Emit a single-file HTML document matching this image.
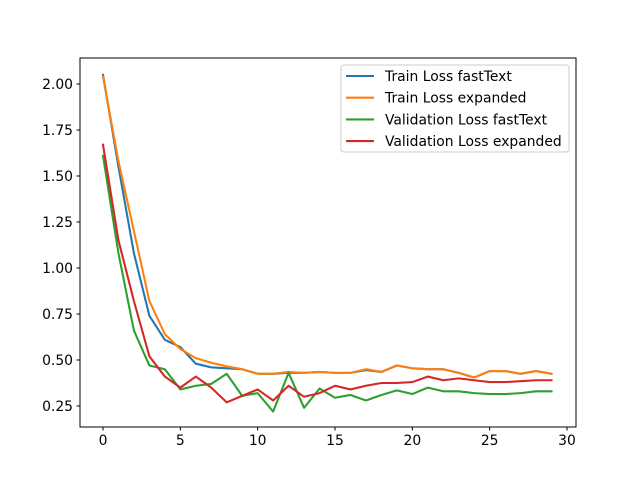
<!DOCTYPE html>
<html><head><meta charset="utf-8"><style>
body{margin:0;background:#fff}
text{font-family:"DejaVu Sans","Liberation Sans",sans-serif;font-size:13.9px;fill:#000}
</style></head><body>
<svg id="chart" width="640" height="480" xmlns="http://www.w3.org/2000/svg">
<rect width="640" height="480" fill="#fff"/>
<g id="plot"></g>
<rect x="80" y="58" width="496" height="369" fill="none" stroke="#000" stroke-width="1"/>
</svg>
<script>
const epochs=[...Array(30).keys()];
const trainFast=[2.05,1.55,1.08,0.74,0.61,0.57,0.48,0.46,0.455,0.45,0.425,0.425,0.43,0.43,0.435,0.43,0.43,0.445,0.435,0.47,0.455,0.45,0.45,0.43,0.405,0.44,0.44,0.425,0.44,0.425];
const trainExp=[2.04,1.58,1.2,0.82,0.64,0.56,0.51,0.485,0.465,0.45,0.425,0.425,0.435,0.43,0.435,0.43,0.43,0.45,0.435,0.47,0.455,0.45,0.45,0.43,0.405,0.44,0.44,0.425,0.44,0.425];
const valFast=[1.61,1.08,0.66,0.47,0.45,0.34,0.36,0.37,0.425,0.305,0.32,0.22,0.43,0.24,0.345,0.295,0.31,0.28,0.31,0.335,0.315,0.35,0.33,0.33,0.32,0.315,0.315,0.32,0.33,0.33];
const valExp=[1.67,1.15,0.82,0.52,0.41,0.35,0.41,0.35,0.27,0.305,0.34,0.28,0.36,0.3,0.32,0.36,0.34,0.36,0.375,0.375,0.38,0.41,0.39,0.4,0.39,0.38,0.38,0.385,0.39,0.39];
const xTicks=[0,5,10,15,20,25,30];
const yTicks=[0.25,0.5,0.75,1.0,1.25,1.5,1.75,2.0];
const seriesNames=["Train Loss fastText","Train Loss expanded","Validation Loss fastText","Validation Loss expanded"];
const colors=["#1f77b4","#ff7f0e","#2ca02c","#d62728"];
const X=v=>103+(v-0)*(567-103)/30;
const Y=v=>406-(v-0.25)*(406-84)/1.75;
const NS="http://www.w3.org/2000/svg";
const g=document.getElementById('plot');
function mk(t,a){const e=document.createElementNS(NS,t);for(const k in a)e.setAttribute(k,a[k]);g.appendChild(e);return e;}
xTicks.forEach(t=>{
 const l=mk('line',{x1:X(t),x2:X(t),y1:427,y2:430.5,stroke:'#000'});
 
 
 const tx=mk('text',{x:X(t),y:445,'text-anchor':'middle'});tx.textContent=t;
 
 
});
yTicks.forEach(t=>{
 const l=mk('line',{x1:76.5,x2:80,y1:Y(t),y2:Y(t),stroke:'#000'});
 
 
 const tx=mk('text',{x:73,y:Y(t)+5,'text-anchor':'end'});tx.textContent=t.toFixed(2);
 
 
});
[trainFast,trainExp,valFast,valExp].forEach((s,i)=>{
 const p=mk('polyline',{points:s.map((v,j)=>X(epochs[j])+','+Y(v)).join(' '),fill:'none',stroke:colors[i],'stroke-width':2.08,'stroke-linejoin':'round','stroke-linecap':'square'});
 
 
});
const lg=mk('rect',{x:341,y:65,width:228,height:87,rx:3,fill:'#fff','fill-opacity':0.8,stroke:'#ccc'});


seriesNames.forEach((n,i)=>{
 const y=76+i*21.7;
 const l=mk('line',{x1:346,x2:374,y1:y,y2:y,stroke:colors[i],'stroke-width':2.08});
 
 
 const t=mk('text',{x:385,y:y+5});t.textContent=n;
 
 
});
</script>
</body></html>
